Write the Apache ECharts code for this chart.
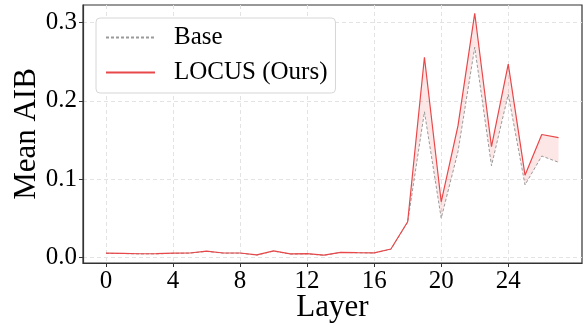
<!DOCTYPE html>
<html>
<head>
<meta charset="utf-8">
<script src="https://cdn.jsdelivr.net/npm/echarts@6/dist/echarts.min.js"></script>
<style>html,body{margin:0;padding:0;background:#fff}#c{width:584px;height:324px}</style>
</head>
<body>
<div id="c"></div>
<script>
const layers = [0,1,2,3,4,5,6,7,8,9,10,11,12,13,14,15,16,17,18,19,20,21,22,23,24,25,26,27];
const locus = [0.0052,0.0050,0.0045,0.0046,0.0052,0.0055,0.0078,0.0055,0.0055,0.0030,0.0082,0.0043,0.0046,0.0027,0.0064,0.0060,0.0057,0.0106,0.0455,0.2558,0.0710,0.1680,0.3120,0.1414,0.2470,0.1050,0.1570,0.1530];
const base = [0.0050,0.0048,0.0043,0.0044,0.0050,0.0053,0.0075,0.0053,0.0053,0.0028,0.0079,0.0041,0.0044,0.0025,0.0062,0.0058,0.0055,0.0102,0.0450,0.1860,0.0499,0.1350,0.2685,0.1170,0.2084,0.0925,0.1295,0.1215];
const xTicks = [0,4,8,12,16,20,24];
const yTicks = [0,0.1,0.2,0.3];

const FONT = 'Liberation Serif';
const basePts = layers.map((l,i)=>[l, base[i]]);
const locusPts = layers.map((l,i)=>[l, locus[i]]);

const chart = echarts.init(document.getElementById('c'), null, {renderer:'canvas'});
chart.setOption({
  animation:false,
  textStyle:{fontFamily:FONT},
  grid:{left:83,right:2,top:5,bottom:61,containLabel:false,outerBoundsMode:'none',show:true,borderColor:'#333',borderWidth:1.2,backgroundColor:'transparent'},
  legend:{
    left:96, top:18, orient:'vertical',
    data:['Base','LOCUS (Ours)'],
    backgroundColor:'#fff', borderColor:'#d6d6d6', borderWidth:1, borderRadius:4,
    padding:[7,8,8,9], itemGap:10, itemWidth:49, itemHeight:14,
    itemStyle:{opacity:0},
    textStyle:{fontFamily:FONT,fontSize:25,color:'#000',padding:[0,0,0,14]}
  },
  xAxis:{
    type:'value', min:-1.37, max:28.4,
    name:'Layer', nameLocation:'middle', nameGap:29, nameMoveOverlap:false,
    nameTextStyle:{fontFamily:FONT,fontSize:31,color:'#000'},
    axisLine:{show:true,onZero:false,lineStyle:{color:'#333',width:1.2}},
    axisTick:{show:true,length:4,lineStyle:{color:'#333'},customValues:xTicks},
    axisLabel:{fontFamily:FONT,fontSize:25,color:'#000',margin:6,customValues:xTicks},
    splitLine:{show:true,lineStyle:{color:'#e3e3e3',type:[4,3],width:1}}
  },
  yAxis:{
    type:'value', min:-0.0073, max:0.3226,
    name:'Mean AIB', nameLocation:'middle', nameGap:41, nameMoveOverlap:false,
    nameTextStyle:{fontFamily:FONT,fontSize:31,color:'#000'},
    axisLine:{show:true,onZero:false,lineStyle:{color:'#333',width:1.2}},
    axisTick:{show:true,length:4,lineStyle:{color:'#333'},customValues:yTicks},
    axisLabel:{fontFamily:FONT,fontSize:25,color:'#000',margin:6,customValues:yTicks,formatter:v=>v.toFixed(1)},
    splitLine:{show:true,lineStyle:{color:'#e3e3e3',type:[4,3],width:1}}
  },
  series:[
    {type:'custom',silent:true,z:1,data:[0],
     renderItem:(params,api)=>{
       const pts = locusPts.map(p=>api.coord(p)).concat(basePts.slice().reverse().map(p=>api.coord(p)));
       return {type:'polygon',shape:{points:pts},style:{fill:'rgba(228,60,60,0.13)'}};
     }},
    {name:'Base',type:'line',data:basePts,symbol:'none',showSymbol:false,lineStyle:{color:'#9a9a9a',width:1,type:[3,2]},itemStyle:{color:'#9a9a9a'},z:3},
    {name:'LOCUS (Ours)',type:'line',data:locusPts,symbol:'none',showSymbol:false,lineStyle:{color:'#e8484a',width:1.2},itemStyle:{color:'#e8484a'},z:4}
  ]
});
</script>
</body>
</html>
